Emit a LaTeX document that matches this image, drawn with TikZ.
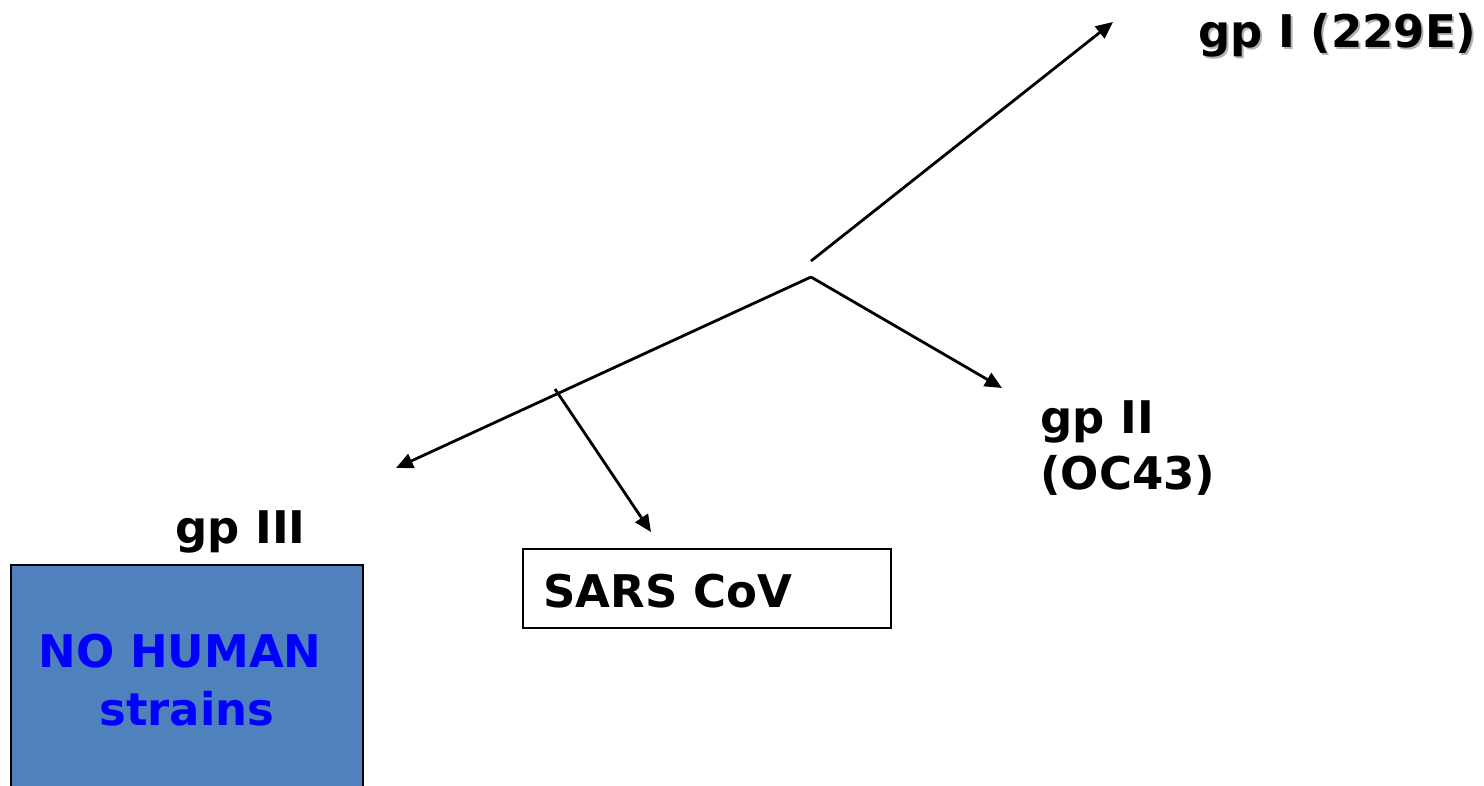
\documentclass[tikz,border=0pt]{standalone}
\usepackage{fontspec}
\setmainfont{DejaVu Sans}
\usetikzlibrary{arrows.meta}
\definecolor{boxblue}{RGB}{79,129,189}
\definecolor{txtblue}{RGB}{0,0,255}
\begin{document}
\begin{tikzpicture}[x=1pt,y=-1pt,
    branch/.style={line width=2.8pt},
    arr/.style={branch,-{Triangle[length=17pt,width=15pt]}},
    lbl/.style={anchor=base west,inner sep=0pt,font=\fontsize{45}{56}\selectfont\bfseries}]
    \useasboundingbox (0,0) rectangle (1484,786);
    % 分支点
    \coordinate (root) at (811,277);
    \coordinate (stem) at (811,261);
    \coordinate (fork) at (555,389);
    \coordinate (endI) at (1113,22);
    \coordinate (endII) at (1002,388);
    \coordinate (endIII) at (396,468);
    \coordinate (endS) at (651,532);
    % 箭头
    \draw[arr] (stem) -- (endI);
    \draw[arr] (root) -- (endII);
    \draw[arr] (root) -- (endIII);
    \draw[arr] (fork) -- (endS);
    % 标签
    \node[lbl,text=black!30] (gpIs) at (1200,50) {gp I (229E)};
    \node[lbl] (gpI) at (1198,48) {gp I (229E)};
    \node[lbl] (gpII) at (1040,433) {gp II};
    \node[lbl] (oc) at (1040,489) {(OC43)};
    \node[lbl] (gpIII) at (175,543) {gp III};
    % SARS 框
    \draw[line width=1.8pt] (523,549) rectangle (891,628);
    \node[lbl] (sars) at (543,607) {SARS CoV};
    % 蓝框
    \draw[line width=1.8pt,fill=boxblue] (11,565) rectangle (363,800);
    \node[lbl,anchor=base,text=txtblue] (nohuman) at (180,667) {NO HUMAN};
    \node[lbl,anchor=base,text=txtblue] (strains) at (187,725) {strains};
\end{tikzpicture}
\end{document}
